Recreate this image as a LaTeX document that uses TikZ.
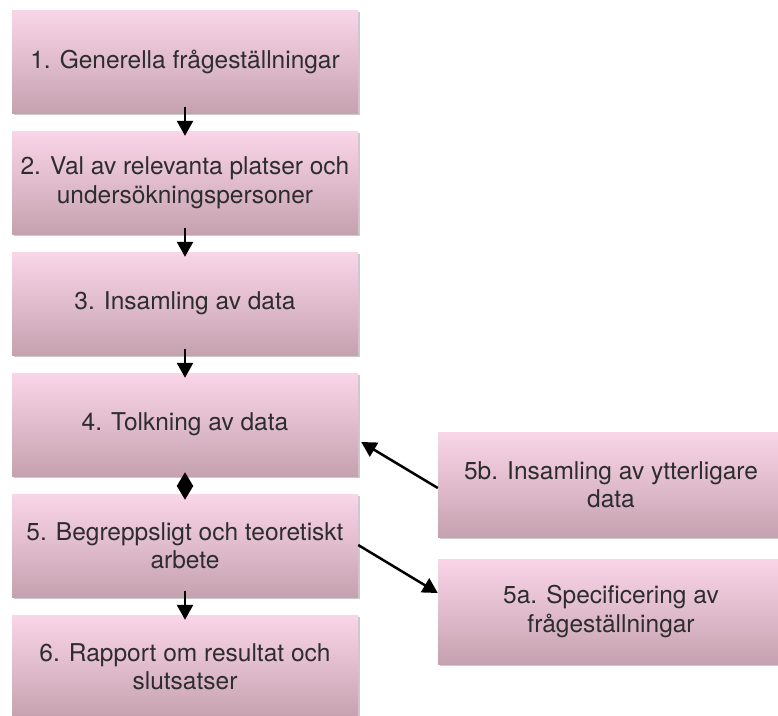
\documentclass[tikz,border=0pt]{standalone}
\usepackage{fontspec}
\setmainfont{TeX Gyre Heros}
\usetikzlibrary{arrows.meta,shadows}
\definecolor{boxtop}{RGB}{249,213,232}
\definecolor{boxbot}{RGB}{198,162,176}
\definecolor{txt}{RGB}{45,45,45}
\tikzset{
  stage/.style={rectangle, inner sep=0pt, minimum width=346pt, minimum height=103pt,
    top color=boxtop, bottom color=boxbot, align=center, text=txt,
    font=\fontsize{24.5}{28.5}\selectfont,
    drop shadow={shadow xshift=1.5pt, shadow yshift=-1.5pt, opacity=0.35, fill=black!60}},
  side/.style={stage, minimum width=346pt, minimum height=105pt},
  flow/.style={line width=2.5pt, -{Triangle[length=15pt,width=16pt]}},
  both/.style={line width=2.5pt, {Triangle[length=14pt,width=16pt]}-{Triangle[length=14pt,width=16pt]}}
}
\begin{document}
\begin{tikzpicture}[x=1pt,y=-1pt]
\useasboundingbox (0,0) rectangle (778,715);
\clip (0,0) rectangle (778,715);
\node[stage] (b1) at (185,61.5) {1. Generella frågeställningar};
\node[stage] (b2) at (185,182.5) {2. Val av relevanta platser och\\undersökningspersoner};
\node[stage] (b3) at (185,303.5) {3. Insamling av data};
\node[stage] (b4) at (185,424.5) {4. Tolkning av data};
\node[stage] (b5) at (185,545.5) {5. Begreppsligt och teoretiskt\\arbete};
\node[stage] (b6) at (185,666.5) {6. Rapport om resultat och\\slutsatser};
\node[side] (s5b) at (611,484.5) {5b. Insamling av ytterligare\\data};
\node[side] (s5a) at (611,611.5) {5a. Specificering av\\frågeställningar};
\draw[flow] ([yshift=6pt]b1.south) -- ([yshift=-5pt]b2.north);
\draw[flow] ([yshift=6pt]b2.south) -- ([yshift=-5pt]b3.north);
\draw[flow] ([yshift=6pt]b3.south) -- ([yshift=-5pt]b4.north);
\draw[both] ([yshift=4pt]b4.south) -- ([yshift=-6pt]b5.north);
\draw[flow] ([yshift=6pt]b5.south) -- ([yshift=-5pt]b6.north);
\draw[flow] ([yshift=-3.5pt]s5b.west) -- ([xshift=3pt,yshift=-17.5pt]b4.east);
\draw[flow] ([yshift=0.5pt]b5.east) -- ([yshift=18.5pt]s5a.west);
\end{tikzpicture}
\end{document}
